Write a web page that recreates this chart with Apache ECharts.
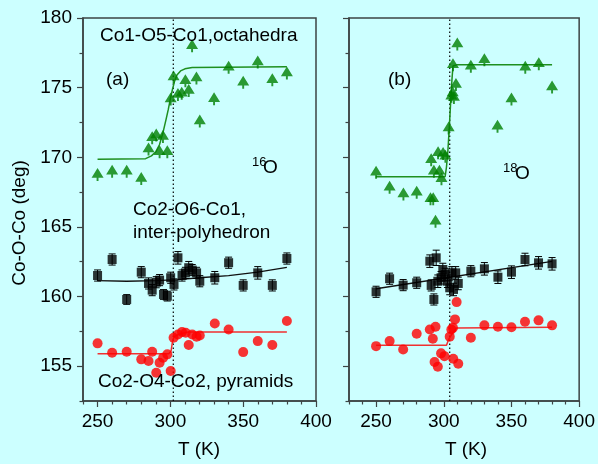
<!DOCTYPE html>
<html><head><meta charset="utf-8">
<script src="https://cdn.jsdelivr.net/npm/echarts@6/dist/echarts.min.js"></script>
<style>html,body{margin:0;padding:0;background:#CCFFFF}#c{width:598px;height:464px}</style>
</head><body><div id="c"></div><script>
// ---------- data: panel (a), 16O ----------
const octT_a = [250,260,270,280,285,287.5,290.3,292.6,294.9,297.9,300.2,302.2,305.2,307.8,310.3,312.6,314.9,317.9,320.2,330,340,350,360,370,380];
const octV_a = [168.76,168.99,169.0,168.47,170.6,171.4,171.6,170.4,171.5,170.4,174.19,175.77,174.5,174.6,175.5,174.8,178.0,175.7,172.6,174.2,176.46,175.38,176.84,175.57,176.05];
const intT_a = [250,260,270,280,285,287.5,290.3,292.6,295.3,297.9,300.2,302.5,305.2,308,310.3,312.6,315,318,320.2,330.5,340,350,360,370,380];
const intV_a = [161.51,162.66,159.79,161.75,160.94,160.46,161.03,161.18,160.15,160.03,161.35,160.87,162.78,161.51,161.7,162.07,161.9,161.7,161.1,161.35,162.43,160.8,161.7,160.8,162.73];
const intE_a = [0.4,0.4,0.35,0.4,0.4,0.4,0.4,0.4,0.35,0.35,0.4,0.4,0.45,0.4,0.4,0.45,0.4,0.4,0.4,0.45,0.4,0.4,0.45,0.4,0.4];
const pyrT_a = [250,260,270,280,285,287.5,290.3,292.6,295,297.9,300.2,302.2,305.2,308,310.5,312.6,315,318,320.2,330.5,340,350,360,370,380];
const pyrV_a = [156.64,155.97,156.04,155.49,155.37,156.04,154.53,155.25,155.61,155.85,154.65,157.04,157.28,157.45,157.4,156.52,157.28,157.12,157.2,158.07,157.64,156.01,156.8,156.52,158.24];
const fitOctT_a = [250,283,287,290,292.5,295,297,298.5,300,301.5,303,304.5,307,310,315,380];
const fitOctV_a = [169.85,169.9,170.1,170.4,170.9,171.8,172.7,173.4,174.2,174.9,175.5,175.9,176.2,176.35,176.45,176.5];
const fitIntT_a = [250,270,290,305,320,340,360,380];
const fitIntV_a = [161.15,161.1,161.15,161.22,161.35,161.5,161.75,162.1];
const fitPyrT_a = [250,299,300.5,301.5,302.5,306,312,380];
const fitPyrV_a = [155.9,155.9,156.1,156.8,157.1,157.3,157.45,157.45];
const transition_a = 302;

// ---------- data: panel (b), 18O ----------
const octT_b = [250,260,270.2,280,290.2,292.2,293.9,290.7,292.7,295.8,296.8,298.3,299.5,301.2,303.6,305.6,306.6,307.5,309,306.8,310,320,330,339.7,350,360.2,370.2,380];
const octV_b = [168.92,167.85,167.37,167.49,167.02,167.02,165.41,169.83,169.0,170.32,169.0,168.45,170.27,170.07,172.1,174.38,174.62,174.3,175.22,176.65,178.13,176.53,177.0,172.22,174.19,176.46,176.72,175.05];
const intT_b = [250,260,270,280,289.7,294.4,290.7,292.7,295.6,298,299.3,301,302.7,304.4,306,307.2,308.8,310.7,320,330,340,350,360,370,380];
const intV_b = [160.34,161.28,160.82,160.99,162.54,162.78,160.8,159.79,161.1,161.35,161.94,161.58,161.1,160.63,161.7,160.51,161.7,160.94,161.82,161.99,161.39,161.75,162.66,162.42,162.35];
const intE_b = [0.4,0.4,0.4,0.4,0.45,0.55,0.4,0.4,0.45,0.45,0.45,0.45,0.45,0.5,0.45,0.45,0.45,0.45,0.4,0.45,0.45,0.45,0.45,0.45,0.45];
const pyrT_b = [250,260,270,280,289.7,291.9,293.9,293.2,295.6,298,300.5,304.4,305.6,306.8,308.3,309.5,307,310.7,320,330,340,350,360,370,380];
const pyrV_b = [156.44,156.8,156.2,157.33,157.64,156.97,157.83,155.3,154.96,155.92,155.72,157.12,157.64,157.76,158.36,159.6,155.54,155.18,157.04,157.93,157.83,157.8,158.19,158.29,157.93];
const fitOctT_b = [250,301,302,303,304,305,306,306.8,310,380];
const fitOctV_b = [168.6,168.6,169.3,170.4,172.0,173.8,175.5,176.55,176.65,176.65];
const fitIntT_b = [250,380];
const fitIntV_b = [160.56,162.53];
const fitPyrT_b = [250,302,303.5,306,309.5,380];
const fitPyrV_b = [156.5,156.5,156.9,157.3,157.75,157.8];
const transition_b = 304.4;

// ---------- axis ticks ----------
const yMajor = [155,160,165,170,175,180];
const yMinor = [152.5,157.5,162.5,167.5,172.5,177.5];
const xMajor = [250,300,350,400];
const xMinor_a = [240,260,270,280,290,310,320,330,340,360,370,380,390];
const xMinor_b = [230,240,260,270,280,290,310,320,330,340,360,370,380,390];
const yRange = [152.5,180];
const xRange_a = [240,400];
const xRange_b = [230,400];

const FONT = 'Liberation Sans, Arial, sans-serif';
const AX = '#3c4444';
const zip = (a,b) => a.map((v,i)=>[v,b[i]]);
const zip3 = (a,b,c) => a.map((v,i)=>[v,b[i],c[i]]);

function xMain(g, rng, showLabel){
  return {gridIndex:g, type:'value', position:'bottom', min:rng[0], max:rng[1],
    axisLine:{show:true, onZero:false, lineStyle:{color:AX, width:1.5}},
    axisTick:{show:true, customValues:xMajor, length:6, lineStyle:{color:AX, width:1.2}},
    axisLabel:{show:showLabel, customValues:xMajor, color:'#000', fontSize:19, fontFamily:FONT, margin:11},
    splitLine:{show:false}};
}
function xMinorAxis(g, rng, ticks){
  return {gridIndex:g, type:'value', position:'bottom', min:rng[0], max:rng[1],
    axisLine:{show:false}, axisLabel:{show:false}, splitLine:{show:false},
    axisTick:{show:true, customValues:ticks, length:3.5, lineStyle:{color:AX, width:1.2}}};
}
function yMain(g, showLabel){
  return {gridIndex:g, type:'value', position:'left', min:yRange[0], max:yRange[1],
    axisLine:{show:true, onZero:false, lineStyle:{color:AX, width:1.5}},
    axisTick:{show:true, customValues:yMajor, length:6, lineStyle:{color:AX, width:1.2}},
    axisLabel:{show:showLabel, customValues:yMajor, color:'#000', fontSize:19, fontFamily:FONT, margin:11},
    splitLine:{show:false}};
}
function yMinorAxis(g){
  return {gridIndex:g, type:'value', position:'left', min:yRange[0], max:yRange[1],
    axisLine:{show:false}, axisLabel:{show:false}, splitLine:{show:false},
    axisTick:{show:true, customValues:yMinor, length:3.5, lineStyle:{color:AX, width:1.2}}};
}

const TREE = 'path://M5,0 L10,9 L5.8,9 L5.8,12 L4.2,12 L4.2,9 L0,9 Z';

function errRender(params, api){
  const x = api.value(0), y = api.value(1), e = api.value(2);
  const t = api.coord([x, y+e]), b = api.coord([x, y-e]);
  const w = 3.5, st = {stroke:'#000', lineWidth:1};
  return {type:'group', children:[
    {type:'line', shape:{x1:t[0],y1:t[1],x2:b[0],y2:b[1]}, style:st},
    {type:'line', shape:{x1:t[0]-w,y1:t[1],x2:t[0]+w,y2:t[1]}, style:st},
    {type:'line', shape:{x1:b[0]-w,y1:b[1],x2:b[0]+w,y2:b[1]}, style:st}
  ]};
}

function panelSeries(xi, yi, d){
  const s = [];
  s.push({type:'line', xAxisIndex:xi, yAxisIndex:yi, data:[[d.tr,yRange[0]],[d.tr,yRange[1]]],
    showSymbol:false, symbol:'none', lineStyle:{color:'#000', width:1.2, type:[1.5,2.5]}, z:1, silent:true});
  s.push({type:'line', xAxisIndex:xi, yAxisIndex:yi, data:zip(d.foT,d.foV), showSymbol:false, symbol:'none',
    lineStyle:{color:'#1f8f1f', width:1.5}, z:2});
  s.push({type:'line', xAxisIndex:xi, yAxisIndex:yi, data:zip(d.fiT,d.fiV), showSymbol:false, symbol:'none',
    lineStyle:{color:'#111', width:1.3}, z:2});
  s.push({type:'line', xAxisIndex:xi, yAxisIndex:yi, data:zip(d.fpT,d.fpV), showSymbol:false, symbol:'none',
    lineStyle:{color:'#f03030', width:1.5}, z:2});
  s.push({type:'custom', coordinateSystem:'cartesian2d', xAxisIndex:xi, yAxisIndex:yi,
    data:zip3(d.iT,d.iV,d.iE), encode:{x:0,y:1}, renderItem:errRender, z:3});
  s.push({type:'scatter', xAxisIndex:xi, yAxisIndex:yi, data:zip(d.oT,d.oV), symbol:TREE, symbolSize:[12,13],
    itemStyle:{color:'#008000'}, z:4});
  s.push({type:'scatter', xAxisIndex:xi, yAxisIndex:yi, data:zip(d.iT,d.iV), symbol:'rect', symbolSize:9,
    itemStyle:{color:'#000'}, z:4});
  s.push({type:'scatter', xAxisIndex:xi, yAxisIndex:yi, data:zip(d.pT,d.pV), symbol:'circle', symbolSize:10,
    itemStyle:{color:'#ff0000'}, z:4});
  return s;
}

const txt = (x, y, text, size, align) => ({type:'text', x:x, y:y, z:10,
  style:{text:text, font:size+'px '+FONT, fill:'#000', align:align||'left', textAlign:align||'left',
    verticalAlign:'middle', textVerticalAlign:'middle'}});

const chart = echarts.init(document.getElementById('c'), null, {renderer:'canvas'});
chart.setOption({
  animation:false,
  backgroundColor:'#CCFFFF',
  grid:[
    {left:83, top:18, width:233, height:383, show:true, borderColor:AX, borderWidth:1.5, backgroundColor:'transparent', containLabel:false},
    {left:349, top:18, width:234, height:383, show:true, borderColor:AX, borderWidth:1.5, backgroundColor:'transparent', containLabel:false}
  ],
  xAxis:[xMain(0, xRange_a, true), xMinorAxis(0, xRange_a, xMinor_a), xMain(1, xRange_b, true), xMinorAxis(1, xRange_b, xMinor_b)],
  yAxis:[yMain(0, true), yMinorAxis(0), yMain(1, false), yMinorAxis(1)],
  series:[].concat(
    panelSeries(0, 0, {tr:transition_a, oT:octT_a, oV:octV_a, iT:intT_a, iV:intV_a, iE:intE_a, pT:pyrT_a, pV:pyrV_a,
      foT:fitOctT_a, foV:fitOctV_a, fiT:fitIntT_a, fiV:fitIntV_a, fpT:fitPyrT_a, fpV:fitPyrV_a}),
    panelSeries(2, 2, {tr:transition_b, oT:octT_b, oV:octV_b, iT:intT_b, iV:intV_b, iE:intE_b, pT:pyrT_b, pV:pyrV_b,
      foT:fitOctT_b, foV:fitOctV_b, fiT:fitIntT_b, fiV:fitIntV_b, fpT:fitPyrT_b, fpV:fitPyrV_b})
  ),
  graphic:[
    txt(100, 36, 'Co1-O5-Co1,octahedra', 19),
    txt(106, 80, '(a)', 19),
    txt(252, 162, '16', 13),
    txt(263, 168, 'O', 19),
    txt(133, 210, 'Co2-O6-Co1,', 19),
    txt(133, 233, 'inter-polyhedron', 19),
    txt(98, 382, 'Co2-O4-Co2, pyramids', 19),
    txt(388, 80, '(b)', 19),
    txt(503, 168, '18', 13),
    txt(515, 174, 'O', 19),
    txt(199, 450, 'T (K)', 19, 'center'),
    txt(466, 450, 'T (K)', 19, 'center'),
    {type:'text', x:20, y:223, rotation:Math.PI/2, z:10,
      style:{text:'Co-O-Co (deg)', font:'19px '+FONT, fill:'#000', align:'center', textAlign:'center',
        verticalAlign:'middle', textVerticalAlign:'middle'}}
  ]
});
</script></body></html>
